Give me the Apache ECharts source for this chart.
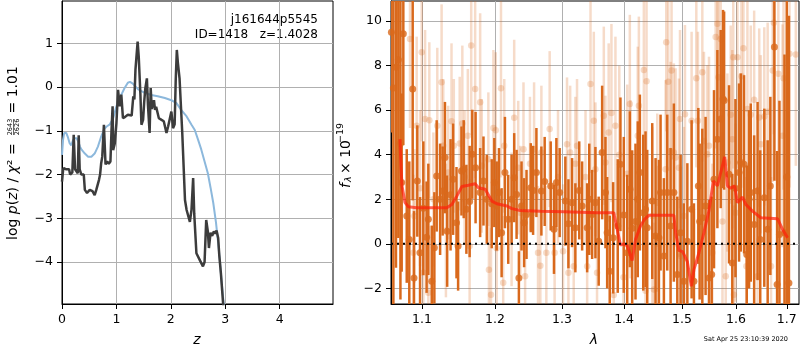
<!DOCTYPE html>
<html>
<head>
<meta charset="utf-8">
<script src="https://cdn.jsdelivr.net/npm/echarts@6/dist/echarts.min.js"></script>
<style>
  html, body { margin: 0; padding: 0; background: #fff; }
  #main { width: 800px; height: 350px; }
</style>
</head>
<body>
<div id="main"></div>
<script>
// ---- left panel: p(z) ----
var zBlack = [0, 0.02, 0.03, 0.08, 0.13, 0.15, 0.19, 0.215, 0.24, 0.27,
  0.29, 0.307, 0.325, 0.356, 0.40, 0.42, 0.46, 0.51, 0.56, 0.60,
  0.63, 0.68, 0.70, 0.72, 0.74, 0.77, 0.80, 0.83, 0.86, 0.89,
  0.91, 0.93, 0.94, 0.97, 1.00, 1.03, 1.06, 1.09, 1.12, 1.16,
  1.21, 1.28, 1.31, 1.33, 1.35, 1.39, 1.41, 1.44, 1.46, 1.49,
  1.51, 1.53, 1.56, 1.58, 1.61, 1.63, 1.65, 1.69, 1.71, 1.73,
  1.78, 1.83, 1.87, 1.92, 1.95, 1.98, 2.01, 2.04, 2.07, 2.09,
  2.11, 2.13, 2.16, 2.19, 2.21, 2.26, 2.29, 2.32, 2.35, 2.38,
  2.41, 2.43, 2.47, 2.53, 2.59, 2.62, 2.65, 2.68, 2.70, 2.73,
  2.76, 2.79, 2.81, 2.84, 2.87, 2.89, 2.92, 2.96, 2.98];
var logpBlack = [-2.16, -1.90, -1.85, -1.88, -1.88, -2.00, -1.95, -1.09, -1.88, -1.85,
  -1.97, -1.10, -1.88, -2.00, -2.00, -2.35, -2.42, -2.35, -2.38, -2.47,
  -2.35, -2.12, -2.00, -1.74, -1.59, -0.86, -1.77, -1.70, -1.75, -1.70,
  -0.98, -0.44, -1.44, -1.29, -0.83, -0.06, -0.44, -0.17, -0.71, -0.68,
  -0.63, -0.65, -0.21, -0.28, 0.40, 1.04, 0.70, -0.14, -0.86, -0.75,
  -0.35, -0.04, 0.20, -0.42, -1.05, -0.02, -0.50, -0.30, -0.52, -0.45,
  -0.71, -0.75, -0.78, -1.05, -0.90, -0.87, -0.56, -0.94, -0.85, 0.17,
  0.85, 0.55, 0.20, 0.17, -1.05, -2.58, -2.81, -2.85, -3.08, -2.80,
  -2.08, -2.90, -3.80, -3.95, -4.10, -4.00, -3.04, -3.30, -3.68, -3.33,
  -3.40, -3.30, -3.35, -3.28, -3.45, -3.84, -4.26, -4.94, -5.20];

var zBlue = [0, 0.02, 0.04, 0.08, 0.11, 0.14, 0.17, 0.20, 0.23, 0.27,
  0.30, 0.33, 0.36, 0.42, 0.48, 0.54, 0.60, 0.66, 0.72, 0.78,
  0.82, 0.88, 0.94, 1.00, 1.06, 1.15, 1.21, 1.25, 1.30, 1.40,
  1.52, 1.64, 1.76, 1.89, 2.01, 2.10, 2.19, 2.29, 2.38, 2.44,
  2.50, 2.56, 2.62, 2.68, 2.73, 2.78, 2.83, 2.87, 2.90, 2.93,
  2.97, 2.99];
var logpBlue = [-1.55, -1.20, -1.05, -1.05, -1.15, -1.28, -1.33, -1.22, -1.17, -1.17,
  -1.25, -1.36, -1.43, -1.52, -1.59, -1.59, -1.52, -1.36, -1.13, -0.95,
  -0.90, -0.85, -0.71, -0.44, -0.25, -0.02, 0.10, 0.12, 0.08, -0.05,
  -0.13, -0.18, -0.21, -0.25, -0.30, -0.36, -0.52, -0.67, -0.86, -0.98,
  -1.20, -1.43, -1.70, -1.97, -2.30, -2.65, -3.10, -3.57, -3.95, -4.41,
  -4.94, -5.20];

var zTicks = [0, 1, 2, 3, 4];
var logpTicks = [-4, -3, -2, -1, 0, 1];

// ---- right panel: spectrum ----
var darkLam = [1.0605, 1.0630, 1.0663, 1.0693, 1.0720, 1.0736, 1.0757, 1.0801, 1.0834, 1.0878,
  1.0895, 1.0938, 1.0974,
  1.1017, 1.1060, 1.1083, 1.1128, 1.1163, 1.1194, 1.1240, 1.1274, 1.1305, 1.1335,
  1.1381, 1.1416, 1.1462, 1.1484, 1.1530, 1.1561, 1.1598, 1.1643, 1.1680, 1.1726,
  1.1790, 1.1837, 1.1884, 1.1954, 1.1991, 1.2025, 1.2058, 1.2096, 1.2144, 1.2192,
  1.2241, 1.2279, 1.2314, 1.2348, 1.2387, 1.2425, 1.2461, 1.2524, 1.2559, 1.2609,
  1.2684, 1.2734, 1.2826, 1.2876, 1.2913, 1.2964,
  1.3052, 1.3100, 1.3157, 1.3209, 1.3270, 1.3316, 1.3396, 1.3430, 1.3476, 1.3529,
  1.3582, 1.3638, 1.3692, 1.3720, 1.3762, 1.3818, 1.3894, 1.3939, 1.3995, 1.4052,
  1.4096, 1.4136, 1.4192, 1.4230, 1.4266, 1.4324, 1.4363,
  1.4392, 1.4478, 1.4536, 1.4594, 1.4623, 1.4681, 1.4740, 1.4799, 1.4857, 1.4918,
  1.4977, 1.5036, 1.5098, 1.5175, 1.5217, 1.5297, 1.5321, 1.5370, 1.5430, 1.5493,
  1.5543, 1.5586, 1.5649, 1.5711, 1.5755,
  1.5775, 1.5868, 1.5930, 1.5990, 1.6059, 1.6092, 1.6155, 1.6207, 1.6252, 1.6285,
  1.6351, 1.6418, 1.6470, 1.6550, 1.6617, 1.6670, 1.6751, 1.6805, 1.6852, 1.6954,
  1.7000, 1.7044];
var darkFlux = [9.5, 7.0, 7.93, 8.26, 4.5, 2.75, 9.43, 1.25, 0.2, 6.95,
  -1.53, 2.82, -0.4,
  1.6, 0.3, 1.1, -1.68, -0.18, 3.05, 2.0, 2.37, 3.87, 0.57,
  2.2, 2.9, 0.95, -0.1, 3.27, 3.35, 1.55, 1.9, 4.02, 3.42,
  2.3, 2.82, 2.0, 1.8, 2.75, 1.7, 2.3, 0.5, 3.2, 1.1,
  2.0, 2.97, 2.22, -1.53, 1.7, 0.95, 1.32, 2.52, 2.4, 3.2,
  2.37, 2.8, 2.6, 0.65, 2.75, 2.3,
  1.92, 0.9, 1.85, 0.72, 2.4, 1.7, 0.72, 2.0, 1.32, 1.85,
  0.12, 4.1, 2.3, 0.5, -1.23, 0.27, 0.8, 3.57, 1.3, -0.4,
  2.45, 0.7, 1.0, 2.0, 3.2, 1.4, 1.55,
  0.72, 1.92, 0.35, 0.27, 2.3, -0.55, 2.3, 0.8, 2.3, -1.38,
  0.5, -1.68, 0.12, 1.55, -1.68, 2.6, 1.0, 1.17, 1.7, -1.53,
  -1.38, 2.9, 4.7, 5.6, 6.5,
  6.43, 3.12, -0.86, 2.5, 3.2, 3.65, 3.57, -0.48, 2.0, 2.3,
  0.87, 2.37, 0.2, 2.07, 0.65, 2.6, 8.83, -1.83, 0.42, 0.5,
  3.0, -1.76];
var darkErr = [4.5, 10, 9, 8, 7, 4, 5, 3, 3.5, 5,
  3, 2.5, 2.5,
  3, 2.5, 2.5, 2.5, 2.5, 2.5, 2.5, 2, 2.5, 2.5,
  2.5, 2.5, 2.5, 2, 2, 2.2, 2, 2.5, 2, 2.5,
  2, 2, 2, 2, 2, 2, 2, 2, 2.5, 2,
  2, 2, 2, 1.2, 2, 2, 2, 2, 2, 2,
  2, 2, 2, 2, 2, 2,
  2, 2, 2, 2, 2.2, 2, 2, 2.5, 2, 2.5,
  2, 3, 2.5, 2.5, 2.5, 2.5, 3, 3, 3.5, 3.5,
  3.5, 3.5, 3.5, 3.5, 3.5, 3.5, 3.5,
  3.5, 3.5, 3.5, 3.5, 3.5, 3.5, 3.5, 3.5, 4, 3.5,
  3.5, 3.5, 3.5, 4, 3.5, 3.5, 3.5, 4, 4, 3.5,
  3.5, 4, 4, 4, 4,
  4, 4, 4, 4, 4, 4, 4, 4, 4, 4,
  4, 4, 4, 4, 4, 4, 6, 6, 6, 8,
  12, 12];

var lightLam = [1.0843, 1.0887, 1.0900, 1.0930, 1.0974, 1.0996, 1.1017, 1.1040, 1.1083, 1.1096,
  1.1150, 1.1202, 1.1260, 1.1282, 1.1318, 1.1349, 1.1394, 1.1425, 1.1506, 1.1542,
  1.1573, 1.1618, 1.1643, 1.1665, 1.1720, 1.1790, 1.1813, 1.1906, 1.1914, 1.1944,
  1.1978, 1.2012, 1.2025, 1.2087, 1.2119, 1.2134, 1.2241, 1.2279, 1.2338, 1.2368,
  1.2416, 1.2440, 1.2512, 1.2574, 1.2633, 1.2668, 1.2684, 1.2759, 1.2810, 1.2886,
  1.2938, 1.3016, 1.3078, 1.3100, 1.3127, 1.3183, 1.3209, 1.3235, 1.3370, 1.3396,
  1.3450, 1.3503, 1.3529, 1.3555, 1.3665, 1.3692, 1.3745, 1.3790, 1.3828, 1.3856,
  1.3920, 1.3990, 1.4052, 1.4096, 1.4108, 1.4230, 1.4249, 1.4334, 1.4363, 1.4380,
  1.4478, 1.4507, 1.4565, 1.4582, 1.4711, 1.4722, 1.4757, 1.4799, 1.4816, 1.4857,
  1.4888, 1.4947, 1.4966, 1.4977, 1.5036, 1.5055, 1.5175, 1.5260, 1.5290, 1.5370,
  1.5400, 1.5462, 1.5493, 1.5555, 1.5617, 1.5649, 1.5668, 1.5711, 1.5744, 1.5806,
  1.5837, 1.5900, 1.5930, 1.5948, 1.5961, 1.5992, 1.6028, 1.6105, 1.6143, 1.6200,
  1.6220, 1.6285, 1.6351, 1.6418, 1.6450, 1.6481, 1.6550, 1.6617, 1.6684, 1.6717,
  1.6740, 1.6830, 1.6914, 1.6934, 1.7055, 1.7185];
var lightFlux = [9.2, -0.4, 1.25, 5.3, 2.5, 8.6, -1.3, 5.6, -2.2, 5.55,
  2.0, 5.3, 7.25, 4.4, 0.6, 3.2, 5.5, 4.4, 4.5, 5.4,
  3.0, 4.85, -0.1, 8.9, 6.95, 6.35, 3.5, 3.8, -1.16, -2.28,
  5.2, 5.1, -0.2, 6.98, -1.75, 4.4, 1.1, 5.66, 3.42, 1.4,
  4.25, -1.45, 3.6, 4.25, -0.4, -0.98, 4.1, -0.4, 5.15, -0.4,
  3.0, -0.33, 4.47, -1.3, 4.1, -1.0, 3.6, 4.4, 3.0, -1.0,
  7.18, 5.52, 3.35, -1.3, 5.75, 3.65, 5.0, 5.87, -2.3, 5.3,
  4.0, -1.5, 3.15, 6.28, 2.45, 4.85, 6.2, 7.8, -2.1, 7.3,
  1.25, -2.05, 1.85, 0.0, 3.35, 9.05, 7.28, 4.17, 7.78, 4.1,
  3.88, 3.42, 5.6, -0.55, 1.25, 5.82, 5.52, 7.43, 5.52, 7.7,
  4.62, 4.02, 4.4, -0.4, 9.28, 9.88, 7.48, 9.2, 1.0, -1.46,
  3.65, 5.8, 4.7, 8.38, -2.28, 1.4, 8.38, 7.52, 8.78, -1.0,
  6.05, 5.8, 6.47, -1.46, 5.67, 4.47, 5.72, 5.93, -1.0, 7.78,
  9.92, 7.63, 4.85, 7.43, 8.53, 8.5];
var lightErr = [4, 3.5, 3, 4, 3.5, 4, 3, 4, 3, 3.5,
  3, 3.5, 3.5, 3, 3, 3, 3.5, 3, 3, 3.5,
  3, 3, 3, 4, 4, 4, 3, 3, 3, 3,
  3.5, 3.5, 3, 4, 3, 3, 3, 3.5, 3, 3,
  3, 3, 3, 3, 3, 3, 3, 3, 3.5, 3,
  3, 3, 3, 3, 3, 3, 3, 3, 3, 3,
  4, 4, 3, 3, 4, 3, 4, 4, 3, 4,
  4, 3.5, 4, 4, 4, 4, 4, 4, 3, 4,
  4, 3, 4, 3.5, 4, 4, 4, 4, 4, 4,
  4, 4, 4, 4, 4, 4, 4, 4, 4, 4,
  4, 4, 4, 4, 5, 5, 5, 5, 4, 4,
  4, 4, 4, 5, 4, 4, 5, 5, 5, 4,
  5, 4, 4, 4, 4, 4, 4, 4, 4, 5,
  5, 5, 5, 5, 6, 5];

var modelLam = [1.0714, 1.0727, 1.0740, 1.0779, 1.0821, 1.0930, 1.1106, 1.1330, 1.1398, 1.1466,
  1.1535, 1.1626, 1.1720, 1.1766, 1.1861, 1.1956, 1.2028, 1.2173, 1.2246, 1.2368,
  1.2668, 1.3026, 1.3288, 1.3556, 1.3828, 1.3940, 1.3995, 1.4057, 1.4136, 1.4192,
  1.4277, 1.4345, 1.4420, 1.4681, 1.4857, 1.4888, 1.4947, 1.5013, 1.5098, 1.5170,
  1.5217, 1.5308, 1.5400, 1.5493, 1.5574, 1.5649, 1.5711, 1.5786, 1.5837, 1.5900,
  1.5976, 1.6028, 1.6124, 1.6188, 1.6318, 1.6481, 1.6814, 1.6914, 1.7016];
var modelFlux = [4.7, 3.5, 2.6, 1.85, 1.67, 1.62, 1.62, 1.62, 1.77, 2.14,
  2.57, 2.63, 2.70, 2.52, 2.45, 1.92, 1.80, 1.70, 1.58, 1.50,
  1.46, 1.44, 1.42, 1.40, 1.40, -0.05, 0.0, -0.1, -0.75, 0.2,
  0.8, 1.1, 1.28, 1.28, 1.28, 0.5, -0.3, -0.35, -0.8, -1.9,
  -1.16, -0.4, 0.5, 1.5, 2.82, 2.6, 3.2, 3.9, 2.6, 2.5,
  2.6, 1.85, 2.1, 1.77, 1.47, 1.17, 1.13, 0.65, 0.27];

var lamTicks = [1.1, 1.2, 1.3, 1.4, 1.5, 1.6, 1.7];
var fluxTicks = [-2, 0, 2, 4, 6, 8, 10];

var FONT = 'DejaVu Sans';
var DARK = '#d9691c';
var LIGHT_BAR = 'rgba(217,105,28,0.24)';
var LIGHT_PT = 'rgba(217,105,28,0.3)';

function pairs(xs, ys) {
  var out = [];
  for (var i = 0; i < xs.length; i++) out.push([xs[i], ys[i]]);
  return out;
}
function triples(xs, ys, es) {
  var out = [];
  for (var i = 0; i < xs.length; i++) out.push([xs[i], ys[i], es[i]]);
  return out;
}
function minus(v) { return String(v).replace('-', '\u2212'); }

function errBars(color, width) {
  return function (params, api) {
    var x = api.value(0), y = api.value(1), e = api.value(2);
    var lo = api.coord([x, y - e]);
    var hi = api.coord([x, y + e]);
    return {
      type: 'line',
      shape: { x1: lo[0], y1: lo[1], x2: hi[0], y2: hi[1] },
      style: { stroke: color, lineWidth: width }
    };
  };
}

function axisBase(ticks, fmt, margin) {
  return {
    axisLine: { show: true, onZero: false, lineStyle: { color: '#000', width: 1 } },
    axisTick: { show: true, inside: false, length: 5, customValues: ticks, lineStyle: { color: '#000', width: 1 } },
    axisLabel: { show: true, customValues: ticks, color: '#000', fontFamily: FONT, fontSize: 12.5, margin: margin, formatter: fmt },
    splitLine: { show: true, lineStyle: { color: '#b0b0b0', width: 1 } }
  };
}

var chart = echarts.init(document.getElementById('main'), null, { renderer: 'canvas' });

var xz = axisBase(zTicks, minus, 9);
xz.type = 'value'; xz.gridIndex = 0; xz.min = 0; xz.max = 4.98;
var yz = axisBase(logpTicks, minus, 9);
yz.type = 'value'; yz.gridIndex = 0; yz.min = -4.96; yz.max = 1.97;

var xl = axisBase(lamTicks, function (v) { return (+v).toFixed(1); }, 9);
xl.type = 'log'; xl.gridIndex = 1; xl.min = 1.06; xl.max = 1.725;
var yl = axisBase(fluxTicks, minus, 9);
yl.type = 'value'; yl.gridIndex = 1; yl.min = -2.7; yl.max = 10.9;

var option = {
  animation: false,
  backgroundColor: '#fff',
  grid: [
    { left: 62, top: 1, width: 271, height: 303, show: true, borderColor: '#000', borderWidth: 1, containLabel: false, outerBoundsMode: 'none' },
    { left: 391, top: 1, width: 408, height: 303, show: true, borderColor: '#000', borderWidth: 1, containLabel: false, outerBoundsMode: 'none' }
  ],
  xAxis: [xz, xl],
  yAxis: [yz, yl],
  series: [
    {
      type: 'line', xAxisIndex: 0, yAxisIndex: 0, data: pairs(zBlue, logpBlue),
      symbol: 'none', clip: true,
      lineStyle: { color: '#8cb8dc', width: 2 }
    },
    {
      type: 'line', xAxisIndex: 0, yAxisIndex: 0, data: pairs(zBlack, logpBlack),
      symbol: 'none', clip: true,
      lineStyle: { color: '#3c3c3c', width: 2.5 }
    },
    {
      type: 'custom', xAxisIndex: 1, yAxisIndex: 1, clip: true,
      data: triples(darkLam, darkFlux, darkErr),
      encode: { x: 0, y: 1 },
      renderItem: errBars(DARK, 2.5)
    },
    {
      type: 'scatter', xAxisIndex: 1, yAxisIndex: 1, clip: true,
      data: pairs(darkLam, darkFlux), symbolSize: 7,
      itemStyle: { color: DARK }
    },
    {
      type: 'custom', xAxisIndex: 1, yAxisIndex: 1, clip: true,
      data: triples(lightLam, lightFlux, lightErr),
      encode: { x: 0, y: 1 },
      renderItem: errBars(LIGHT_BAR, 2.5)
    },
    {
      type: 'scatter', xAxisIndex: 1, yAxisIndex: 1, clip: true,
      data: pairs(lightLam, lightFlux), symbolSize: 6.5,
      itemStyle: { color: LIGHT_PT }
    },
    {
      type: 'line', xAxisIndex: 1, yAxisIndex: 1, data: pairs(modelLam, modelFlux),
      symbol: 'none', clip: true,
      lineStyle: { color: 'rgba(255,30,10,0.7)', width: 3 }
    },
    {
      type: 'line', xAxisIndex: 1, yAxisIndex: 1, data: [[1.06, 0], [1.725, 0]],
      symbol: 'none', clip: true,
      lineStyle: { color: '#000', width: 2, type: [2, 4] }
    }
  ],
  graphic: [
    { type: 'text', x: 318, y: 20, style: { text: 'j161644p5545', fontFamily: FONT, fontSize: 12, fill: '#000', align: 'right', verticalAlign: 'middle' } },
    { type: 'text', x: 318, y: 35, style: { text: 'ID=1418   z=1.4028', fontFamily: FONT, fontSize: 12, fill: '#000', align: 'right', verticalAlign: 'middle' } },
    { type: 'text', x: 197, y: 340, style: { text: 'z', fontFamily: FONT, fontSize: 14, fontStyle: 'italic', fill: '#000', align: 'center', verticalAlign: 'middle' } },
    { type: 'text', x: 594, y: 340, style: { text: 'λ', fontFamily: FONT, fontSize: 14, fontStyle: 'italic', fill: '#000', align: 'center', verticalAlign: 'middle' } },
    { type: 'text', x: 788, y: 339, style: { text: 'Sat Apr 25 23:10:39 2020', fontFamily: FONT, fontSize: 6.5, fill: '#000', align: 'right', verticalAlign: 'middle' } },
    {
      type: 'group', x: 13, y: 153, rotation: Math.PI / 2,
      children: [
        { type: 'text', x: -87, y: 0, style: {
          text: '{r|log }{i|p}{r|(}{i|z}{r|) / }{i|χ}{r|² =}',
          align: 'left', verticalAlign: 'middle', fill: '#000',
          rich: {
            r: { fontFamily: FONT, fontSize: 14, fill: '#000' },
            i: { fontFamily: FONT, fontSize: 14, fontStyle: 'italic', fill: '#000' }
          }
        } },
        { type: 'text', x: 26, y: -3, style: { text: '2643', fontFamily: FONT, fontSize: 6.5, fill: '#000', align: 'center', verticalAlign: 'middle' } },
        { type: 'line', shape: { x1: 18, y1: 0.5, x2: 34, y2: 0.5 }, style: { stroke: '#000', lineWidth: 0.6 } },
        { type: 'text', x: 26, y: 4, style: { text: '2626', fontFamily: FONT, fontSize: 6.5, fill: '#000', align: 'center', verticalAlign: 'middle' } },
        { type: 'text', x: 35, y: 0, style: { text: ' = 1.01', fontFamily: FONT, fontSize: 14, fill: '#000', align: 'left', verticalAlign: 'middle' } }
      ]
    },
    {
      type: 'group', x: 346, y: 155, rotation: Math.PI / 2,
      children: [
        { type: 'text', x: -33, y: 0, style: { text: 'f', fontFamily: FONT, fontSize: 14, fontStyle: 'italic', fill: '#000', align: 'left', verticalAlign: 'middle' } },
        { type: 'text', x: -27, y: 3, style: { text: 'λ', fontFamily: FONT, fontSize: 9.5, fontStyle: 'italic', fill: '#000', align: 'left', verticalAlign: 'middle' } },
        { type: 'text', x: -19, y: 0, style: { text: '× 10', fontFamily: FONT, fontSize: 14, fill: '#000', align: 'left', verticalAlign: 'middle' } },
        { type: 'text', x: 12, y: -5, style: { text: '−19', fontFamily: FONT, fontSize: 9.5, fill: '#000', align: 'left', verticalAlign: 'middle' } }
      ]
    }
  ]
};

chart.setOption(option);
</script>
</body>
</html>
